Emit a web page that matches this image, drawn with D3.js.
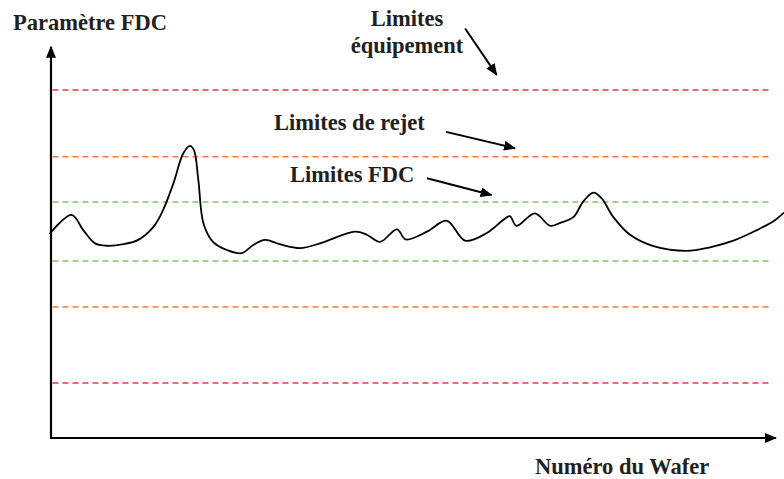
<!DOCTYPE html>
<html>
<head>
<meta charset="utf-8">
<script src="https://cdn.jsdelivr.net/npm/d3@7/dist/d3.min.js"></script>
<style>
  html, body { margin: 0; padding: 0; background: #fff; }
  svg { display: block; }
  text { font-family: "Liberation Serif", "Times New Roman", serif; font-weight: bold; fill: #231f20; }
</style>
</head>
<body>
<svg id="chart" width="784" height="479"></svg>
<script>
// ---- data (wafer number 0..100, FDC parameter 0..100) ----
const waferX = [-0.2, 2.8, 4.4, 6.0, 7.6, 9.9, 11.9, 14.0, 15.3, 16.7, 18.05, 18.96, 19.5, 20.1, 20.8, 22.1, 24.0, 26.0, 27.6, 29.2, 31.2, 34.0, 36.7, 41.5, 43.1, 44.9, 47.2, 48.4, 51.3, 54.0, 56.5, 59.4, 61.7, 62.6, 63.5, 66.0, 68.1, 69.4, 71.3, 72.6, 74.0, 75.1, 76.7, 79.0, 82.2, 86.7, 89.9, 93.1, 96.3, 98.5, 100];
const paramY = [52.3, 57.2, 53.3, 49.9, 49.3, 49.7, 50.8, 54.2, 58.5, 65.3, 73.0, 74.9, 73.8, 66.2, 55.0, 50.3, 48.2, 47.4, 49.5, 50.8, 49.7, 48.7, 49.9, 52.9, 52.1, 50.3, 53.5, 50.9, 52.9, 55.7, 50.6, 52.5, 55.9, 56.9, 54.4, 57.6, 54.4, 55.1, 56.7, 60.6, 62.9, 61.5, 56.7, 52.1, 49.2, 48.0, 48.9, 50.6, 53.3, 55.5, 57.8];

const limitNames = ["equipement", "rejet", "fdc"];
const limitUpper = [89.2, 72.1, 60.5];
const limitLower = [14.1, 33.6, 45.4];
const limitColors = ["#e8383f", "#ef7b3d", "#80c862"];

const labelLines = [["Limites", "équipement"], ["Limites de rejet"], ["Limites FDC"]];
// annotation arrows in data coordinates: [x1, y1, x2, y2]
const arrowData = [[56.5, 105.0, 60.8, 93.1], [53.9, 78.5, 63.3, 74.3], [51.3, 66.6, 60.1, 62.3]];

const yTitle = "Paramètre FDC";
const xTitle = "Numéro du Wafer";

// ---- scales ----
const x = d3.scaleLinear().domain([0, 100]).range([51, 784]);
const y = d3.scaleLinear().domain([0, 100]).range([438, 48]);

const svg = d3.select("#chart");
const defs = svg.append("defs");
defs.append("marker")
  .attr("id", "head")
  .attr("viewBox", "0 0 12 10")
  .attr("refX", 11).attr("refY", 5)
  .attr("markerUnits", "userSpaceOnUse")
  .attr("markerWidth", 12).attr("markerHeight", 10)
  .attr("orient", "auto")
  .append("path").attr("d", "M0,0 L12,5 L0,10 Z").attr("fill", "#000");

// ---- limit lines ----
const lim = svg.append("g");
limitNames.forEach((n, i) => {
  [limitUpper[i], limitLower[i]].forEach(v => {
    lim.append("line")
      .attr("x1", x(0.2)).attr("x2", x(98.4))
      .attr("y1", y(v)).attr("y2", y(v))
      .attr("stroke", limitColors[i])
      .attr("stroke-width", 1.5)
      .attr("stroke-dasharray", "6,4");
  });
});

// ---- curve ----
const pts = waferX.map((d, i) => [d, paramY[i]]);
svg.append("path")
  .datum(pts)
  .attr("fill", "none")
  .attr("stroke", "#000")
  .attr("stroke-width", 1.8)
  .attr("d", d3.line().x(d => x(d[0])).y(d => y(d[1])).curve(d3.curveCatmullRom.alpha(0.5)));

// ---- axes ----
svg.append("line")
  .attr("x1", x(0)).attr("y1", y(0)).attr("x2", x(0)).attr("y2", y(100.3))
  .attr("stroke", "#000").attr("stroke-width", 2.2).attr("marker-end", "url(#head)");
svg.append("line")
  .attr("x1", x(0) - 1).attr("y1", y(0)).attr("x2", x(98.9)).attr("y2", y(0))
  .attr("stroke", "#000").attr("stroke-width", 2.2).attr("marker-end", "url(#head)");

// ---- annotation arrows ----
svg.append("g").selectAll("line").data(arrowData).join("line")
  .attr("x1", d => x(d[0])).attr("y1", d => y(d[1]))
  .attr("x2", d => x(d[2])).attr("y2", d => y(d[3]))
  .attr("stroke", "#000").attr("stroke-width", 2)
  .attr("marker-end", "url(#head)");

// ---- labels ----
const fs = 22.5;
svg.append("text").attr("x", 13).attr("y", 30).attr("font-size", fs).text(yTitle);
svg.append("text").attr("x", 535).attr("y", 474).attr("font-size", fs).text(xTitle);

const labelPos = [[407, 26, "middle"], [274, 130, "start"], [290, 182, "start"]];
labelLines.forEach((lines, i) => {
  const t = svg.append("text")
    .attr("x", labelPos[i][0]).attr("y", labelPos[i][1])
    .attr("text-anchor", labelPos[i][2])
    .attr("font-size", fs);
  lines.forEach((s, j) => {
    t.append("tspan").attr("x", labelPos[i][0]).attr("dy", j === 0 ? 0 : 26.5).text(s);
  });
});
</script>
</body>
</html>
